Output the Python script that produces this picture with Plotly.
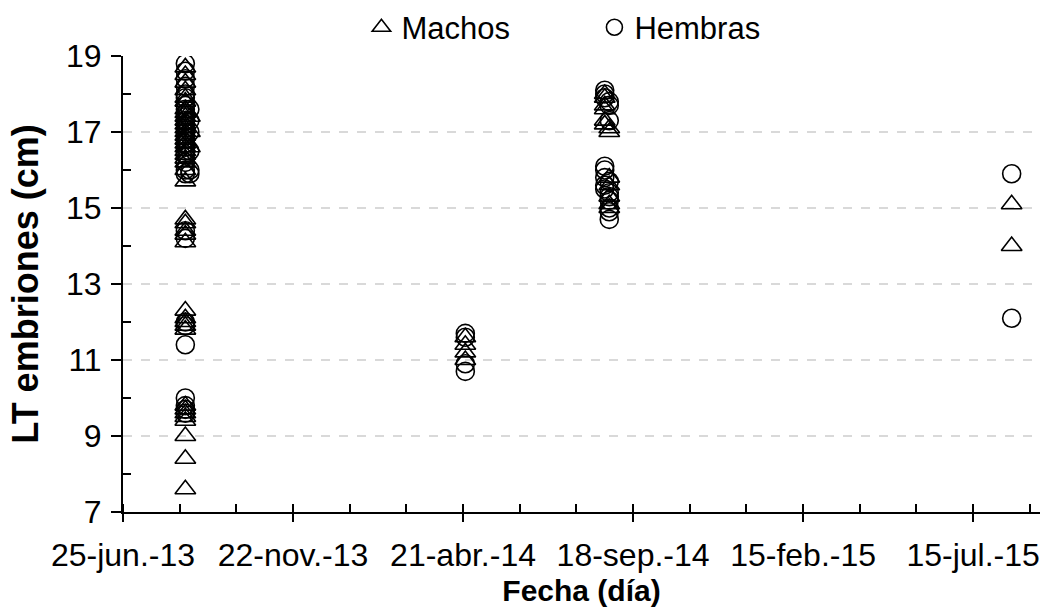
import plotly.graph_objects as go

# Sampling dates (two close dates in Aug-2013 and Aug-2014 campaigns)
fecha_ago13a = "2013-08-19"
fecha_ago13b = "2013-08-23"
fecha_abr14 = "2014-04-23"
fecha_ago14a = "2014-08-24"
fecha_ago14b = "2014-08-28"
fecha_ago15 = "2015-08-18"

# Total length (cm) of male embryos per sampling date
machos_ago13a = [18.7, 18.5, 18.3, 18.1, 17.9, 17.8, 17.6, 17.5, 17.4, 17.3, 17.2,
                 17.1, 17.0, 16.9, 16.8, 16.7, 16.6, 16.5, 16.4, 16.3, 16.2, 16.0,
                 15.7, 14.7, 14.6, 14.4, 14.3, 14.1, 12.3, 12.1, 12.0, 11.9, 11.8,
                 9.8, 9.7, 9.6, 9.5, 9.4, 9.0, 8.4, 7.6]
machos_ago13b = [17.4, 17.0, 16.6]
machos_abr14 = [11.6, 11.4, 11.2, 11.0]
machos_ago14a = [18.0, 17.9, 17.7, 17.6, 17.3, 17.2]
machos_ago14b = [17.1, 17.0, 15.8, 15.6, 15.3, 15.1, 15.0]
machos_ago15 = [15.1, 14.0]

# Total length (cm) of female embryos per sampling date
hembras_ago13a = [18.8, 18.6, 18.4, 18.2, 18.0, 17.9, 17.7, 17.6, 17.5, 17.4, 17.3,
                  17.2, 17.1, 17.0, 16.9, 16.8, 16.7, 16.6, 16.5, 16.4, 16.2, 16.0,
                  15.9, 14.4, 14.2, 12.0, 11.9, 11.4, 10.0, 9.8, 9.7, 9.6]
hembras_ago13b = [17.6, 17.3, 17.0, 16.5, 16.0, 15.9]
hembras_abr14 = [11.7, 11.6, 10.9, 10.7]
hembras_ago14a = [18.1, 18.0, 17.9, 16.1, 16.0, 15.8, 15.6, 15.5]
hembras_ago14b = [17.8, 17.7, 17.3, 15.7, 15.4, 15.3, 15.2, 15.0, 14.9, 14.7]
hembras_ago15 = [15.9, 12.1]

# Date axis ticks
tick_fechas = ["2013-06-25", "2013-11-22", "2014-04-21", "2014-09-18", "2015-02-15", "2015-07-15"]
tick_textos = ["25-jun.-13", "22-nov.-13", "21-abr.-14", "18-sep.-14", "15-feb.-15", "15-jul.-15"]
rango_x = ["2013-06-25", "2015-09-12"]


def columnas(pares):
    xs, ys = [], []
    for fecha, valores in pares:
        xs += [fecha] * len(valores)
        ys += valores
    return xs, ys


mx, my = columnas([(fecha_ago13a, machos_ago13a), (fecha_ago13b, machos_ago13b),
                   (fecha_abr14, machos_abr14), (fecha_ago14a, machos_ago14a),
                   (fecha_ago14b, machos_ago14b), (fecha_ago15, machos_ago15)])
hx, hy = columnas([(fecha_ago13a, hembras_ago13a), (fecha_ago13b, hembras_ago13b),
                   (fecha_abr14, hembras_abr14), (fecha_ago14a, hembras_ago14a),
                   (fecha_ago14b, hembras_ago14b), (fecha_ago15, hembras_ago15)])

FUENTE = "Liberation Sans, Arial, sans-serif"

fig = go.Figure()
fig.add_trace(go.Scatter(
    x=mx, y=my, mode="markers", name="Machos",
    marker=dict(symbol="triangle-up-open", size=18, color="black", line=dict(width=1.6, color="black")),
))
fig.add_trace(go.Scatter(
    x=hx, y=hy, mode="markers", name="Hembras",
    marker=dict(symbol="circle-open", size=18, color="black", line=dict(width=1.6, color="black")),
))
# Invisible trace on an overlaying axis: gives the major x ticks their inner half
fig.add_trace(go.Scatter(x=[rango_x[0]], y=[None], xaxis="x2", showlegend=False, hoverinfo="skip"))

fig.update_layout(
    width=1047, height=609,
    margin=dict(l=123, r=7, t=56, b=97, autoexpand=False),
    plot_bgcolor="white", paper_bgcolor="white",
    font=dict(family=FUENTE, size=30, color="black"),
    showlegend=True,
    legend=dict(orientation="h", x=0.26, xanchor="left", y=1.003, yanchor="bottom",
                font=dict(size=31), entrywidth=188, itemwidth=30,
                bgcolor="rgba(0,0,0,0)"),
    xaxis=dict(
        type="date", range=rango_x, automargin=False,
        tickmode="array", tickvals=tick_fechas, ticktext=tick_textos,
        ticks="outside", ticklen=8, tickwidth=1.5, tickcolor="black",
        showline=True, linecolor="black", linewidth=2,
        showgrid=False, zeroline=False,
        tickfont=dict(size=32), ticklabelstandoff=6,
        title=dict(text="<b>Fecha (día)</b>", font=dict(size=30), standoff=8),
        minor=dict(tickmode="linear", tick0="2013-06-25", dtick=50 * 86400000,
                   ticks="inside", ticklen=8, tickwidth=1.5, tickcolor="black", showgrid=False),
    ),
    xaxis2=dict(
        type="date", range=rango_x, overlaying="x", anchor="y",
        tickmode="array", tickvals=tick_fechas, ticktext=[""] * len(tick_fechas),
        ticks="inside", ticklen=8, tickwidth=1.5, tickcolor="black",
        showline=False, showgrid=False, zeroline=False, showticklabels=False,
    ),
    yaxis=dict(
        range=[7, 19], tickmode="linear", tick0=7, dtick=2, automargin=False,
        ticks="outside", ticklen=10, tickwidth=1.5, tickcolor="black",
        showline=True, linecolor="black", linewidth=2,
        showgrid=True, gridcolor="#d9d9d9", griddash="dash", gridwidth=1.5,
        zeroline=False,
        tickfont=dict(size=32), ticklabelstandoff=3,
        title=dict(text="<b>LT embriones (cm)</b>", font=dict(size=36), standoff=16),
        minor=dict(tickmode="linear", tick0=8, dtick=2, ticks="inside", ticklen=8,
                   tickwidth=1.5, tickcolor="black", showgrid=False),
    ),
)

fig.write_html("out.html")
